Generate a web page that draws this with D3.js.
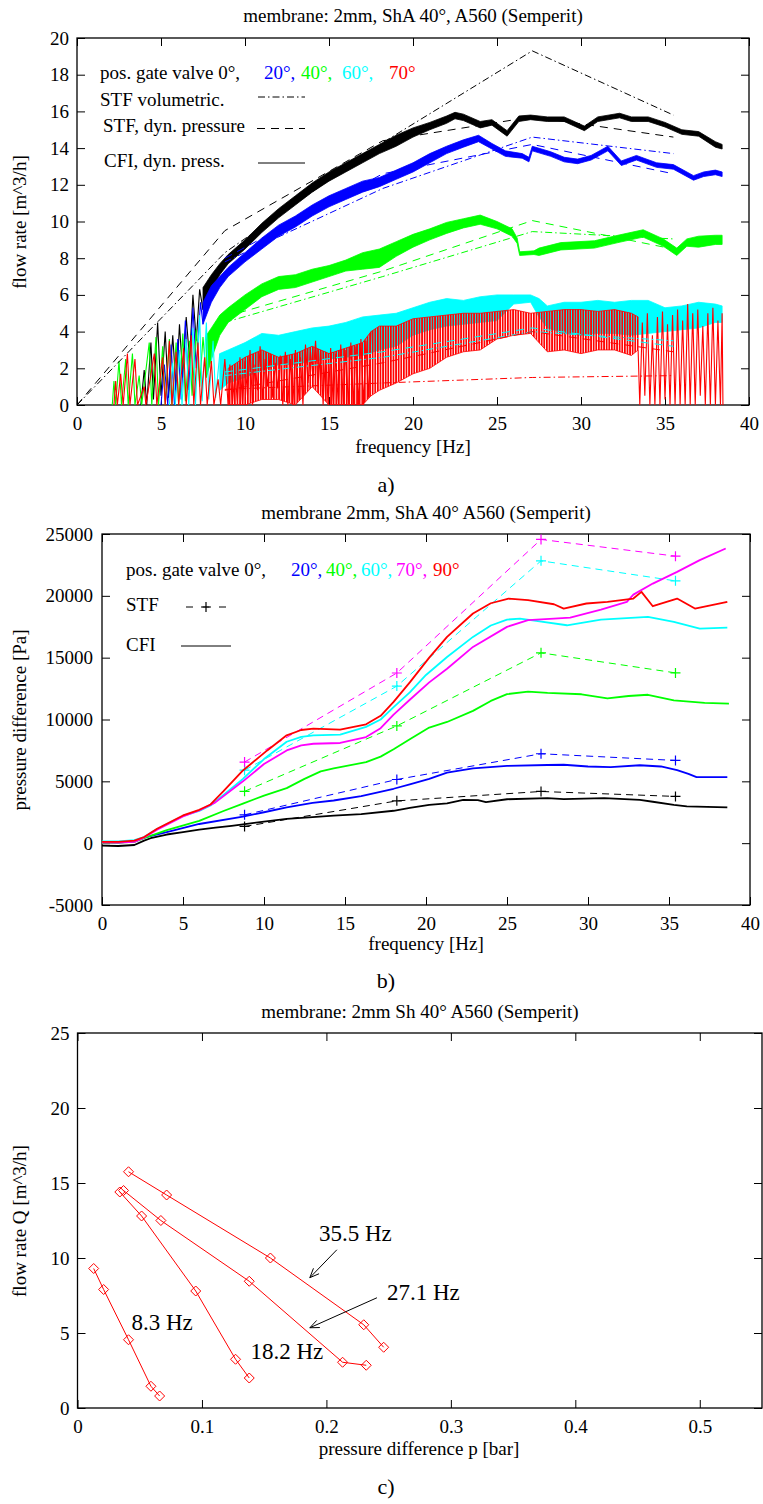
<!DOCTYPE html>
<html lang="en">
<head>
<meta charset="utf-8">
<title>membrane 2mm ShA 40 A560</title>
<script src="https://cdnjs.cloudflare.com/ajax/libs/d3/7.8.5/d3.min.js"></script>
<style>
body { margin:0; background:#fff; }
svg { display:block; font-family:"Liberation Serif","Times New Roman",serif; }
.domain { display:none; }
.tick line { stroke:#000; }
</style>
</head>
<body>
<svg id="chart" width="763" height="1504"></svg>
<script>
// ---------- panel a) : flow rate vs frequency ----------
// STF lines (frequency, flow rate)
var stfDynBlack = [[0,0],[8.8,9.5],[18.2,14.4],[27.1,15.7],[35.5,14.6]];
var stfVolBlack = [[0,0],[8.8,8.3],[18.2,14.3],[27.1,19.3],[35.5,15.8]];
var stfDynBlue  = [[8.8,8.0],[18.2,12.6],[27.1,14.2],[35.5,12.6]];
var stfVolBlue  = [[8.8,7.8],[18.2,11.8],[27.1,14.6],[35.5,13.7]];
var stfDynGreen = [[8.8,4.8],[18.2,7.3],[27.1,10.05],[35.5,8.5]];
var stfVolGreen = [[8.8,4.5],[18.2,7.0],[27.1,9.45],[35.5,9.05]];
var stfDynCyan  = [[8.8,1.8],[18.2,2.9],[27.1,4.2],[35.5,3.2]];
var stfVolCyan  = [[8.8,1.6],[18.2,2.6],[27.1,4.0],[35.5,3.5]];
var stfDynRed   = [[8.8,0.8],[18.2,2.3],[27.1,4.0],[35.5,2.9]];
var stfVolRed   = [[8.8,0.85],[18.2,1.2],[27.1,1.5],[35.5,1.6]];

// CFI measurement, noisy band: [frequency, low, high]
var cfiBlack = [[7.5,5.2,6.4],[8,6.3,7.1],[8.5,7.1,7.7],[9,7.7,8.2],[10,8.5,9.0],[11,9.4,9.9],[12,10.2,10.7],[13,10.9,11.4],[14,11.6,12.1],[15,12.2,12.7],[16,12.7,13.2],[17,13.2,13.7],[18,13.7,14.2],[19,14.1,14.7],[20,14.6,15.1],[21,15.0,15.4],[22,15.35,15.75],[22.5,15.6,15.95],[23,15.5,15.85],[24,15.1,15.45],[24.7,15.25,15.55],[25.6,14.65,14.95],[26.3,15.45,15.75],[27,15.55,15.8],[28,15.45,15.7],[29,15.45,15.7],[30.2,14.95,15.2],[31,15.45,15.7],[32.3,15.65,15.9],[33,15.45,15.7],[34,15.45,15.7],[35,15.15,15.4],[36,14.75,15.0],[37,14.65,14.9],[38,14.05,14.35],[38.4,13.95,14.2]];
var cfiBlue = [[7.5,4.4,5.6],[8,5.6,6.5],[8.5,6.4,7.0],[9,7.0,7.5],[10,7.8,8.3],[11,8.5,9.1],[12,9.2,9.8],[13,9.7,10.3],[14,10.3,10.9],[15,10.8,11.4],[16,11.2,11.8],[17,11.6,12.2],[18,11.9,12.4],[19,12.3,12.8],[20,12.7,13.2],[21,13.2,13.7],[22,13.7,14.1],[23,14.05,14.45],[23.9,14.35,14.7],[24.7,13.95,14.25],[25.5,13.55,13.85],[26.5,13.45,13.7],[26.9,13.25,13.5],[27.1,13.85,14.1],[28.2,13.55,13.8],[29,13.25,13.5],[29.8,13.15,13.4],[30.6,13.35,13.6],[31.6,13.85,14.1],[32.4,13.05,13.3],[33.3,13.35,13.6],[34.5,12.95,13.2],[35.5,12.85,13.1],[36.7,12.25,12.5],[37.3,12.45,12.7],[38,12.55,12.8],[38.4,12.45,12.7]];
var cfiGreen = [[7.7,1.5,3.8],[8,2.5,4.2],[8.5,3.8,4.9],[9,4.5,5.3],[10,5.2,6.0],[11,5.9,6.6],[12,6.3,7.0],[13,6.4,7.1],[14,6.7,7.4],[15,7.0,7.6],[16,7.3,7.9],[17,7.4,8.3],[18,7.5,8.5],[19,8.1,8.9],[20,8.6,9.3],[21,9.0,9.6],[22,9.35,9.95],[23,9.65,10.15],[24,9.85,10.35],[25,9.6,10.0],[25.9,9.2,9.6],[26.2,8.8,9.1],[26.35,8.15,8.35],[27.2,8.2,8.4],[27.5,8.15,8.55],[28.8,8.45,8.85],[30.8,8.55,8.95],[32.2,8.85,9.25],[33.7,9.15,9.55],[34.9,8.65,9.05],[35.7,8.15,8.55],[36.3,8.65,9.05],[37,8.6,9.2],[38,8.75,9.25],[38.4,8.75,9.25]];
var cfiCyan = [[8.5,0.8,2.8],[9,1.2,3.0],[10,1.5,3.4],[11,1.9,3.9],[12,2.2,3.8],[13,2.2,4.0],[14,2.4,4.2],[15,2.5,4.3],[16,2.6,4.5],[17,2.7,4.8],[18,3.0,4.9],[19,3.2,5.0],[20,3.8,5.3],[21,4.1,5.6],[22,4.3,5.8],[23,4.4,5.7],[24,4.5,5.9],[25,4.6,6.0],[26,5.5,6.0],[27,5.6,6.0],[27.5,4.8,5.8],[28,4.2,5.4],[29,3.9,5.6],[30,3.8,5.6],[31,3.9,5.7],[32,3.9,5.6],[33,3.8,5.7],[34,3.9,5.7],[35,4.0,5.3],[36,4.1,5.4],[37,4.2,5.6],[38,4.5,5.5],[38.4,4.5,5.4]];
var cfiRed = [[9,0,2.0],[10,0,2.6],[11,0.3,3.0],[12,0.3,2.6],[13,0,2.8],[14,1.0,3.2],[15,0,2.8],[16,0,3.1],[17,0,3.4],[17.5,0.5,4.0],[18,0.8,4.3],[19,1.2,4.3],[20,1.7,4.7],[21,2.0,4.8],[22,2.6,4.9],[23,2.9,5.0],[24,3.0,5.0],[25,3.6,5.1],[26,3.8,5.2],[27,3.9,5.0],[28,2.9,5.1],[29,3.0,5.2],[30,2.8,5.2],[31,3.0,5.1],[32,3.0,5.2],[33,2.7,5.0],[33.4,3.0,4.8]];

// CFI oscillating parts (frequency, flow rate)
var spikeBlack = [[3.8,0],[4.0,1.9],[4.15,0],[4.4,3.4],[4.55,0.3],[4.8,4.5],[5.0,0.5],[5.25,4.0],[5.45,0.4],[5.7,3.8],[5.9,0.8],[6.1,4.4],[6.3,1.5],[6.5,4.8],[6.7,2.5],[6.9,6.0],[7.1,3.5],[7.3,6.3],[7.5,5.2]];
var spikeBlue = [[5.0,0],[5.2,2.2],[5.4,0],[5.6,3.3],[5.8,0],[6.0,3.6],[6.2,0.3],[6.45,4.6],[6.65,0.8],[6.9,5.3],[7.1,2.0],[7.35,5.6],[7.5,4.4]];
var spikeGreen = [[2.1,0],[2.2,1.3],[2.3,0],[2.5,2.4],[2.65,0],[2.9,2.5],[3.05,0],[3.3,2.8],[3.45,0],[3.7,1.6],[3.85,0],[4.3,3.4],[4.45,0],[4.7,3.7],[4.85,0],[5.1,3.2],[5.25,0],[5.5,3.6],[5.65,0],[5.9,3.4],[6.05,0],[6.3,3.9],[6.45,0.2],[6.7,3.5],[6.85,0.5],[7.1,4.1],[7.3,1.0],[7.5,3.7],[7.7,1.5]];
var spikeCyan = [[5.5,0],[5.7,2.3],[5.85,0],[6.1,3.0],[6.25,0],[6.5,3.6],[6.65,0],[6.9,4.2],[7.05,0],[7.3,4.9],[7.45,0.2],[7.7,4.5],[7.85,0.3],[8.1,3.5],[8.25,0.4],[8.5,2.8]];
var spikeRed = [[2.2,0],[2.3,1.3],[2.4,0],[2.6,1.7],[2.75,0],[3.0,2.8],[3.15,0],[3.45,2.5],[3.6,0],[4.0,1.0],[4.1,0],[4.6,2.8],[4.75,0],[5.1,2.6],[5.25,0],[5.5,3.5],[5.65,0],[5.9,2.9],[6.05,0],[6.35,3.1],[6.5,0],[6.8,3.8],[6.95,0],[7.2,3.4],[7.35,0],[7.6,2.6],[7.75,0],[8.0,2.4],[8.15,0],[8.4,1.4],[8.55,0],[8.8,2.5],[9.0,0],
  [9.1,2.2],[9.25,0],[9.4,1.8],[9.55,0.2],[9.7,2.6],[9.85,0],[10.0,2.4],[10.15,0.5],[10.3,3.0],[10.45,0],[10.6,2.2],[10.75,0.8],[10.9,3.2],[11.05,0.3],[11.2,2.5],[11.35,1.0],[11.5,2.8],[11.65,0.4],[11.8,2.3],[11.95,0.9],[12.1,2.7],[12.25,0],[12.4,2.9],[12.55,0],[12.7,2.5],[12.85,0],[13.0,3.0],[13.15,0.2],[13.3,2.6],[13.45,0],[13.6,3.3],[13.75,1.2],[13.9,2.9],[14.05,1.5],[14.2,3.5],[14.35,1.0],[14.5,3.0],[14.65,0],[14.8,2.9],[14.95,0],[15.1,3.1],[15.25,0],[15.4,2.8],[15.55,0],[15.7,3.3],[15.85,0],[16.0,3.0],[16.15,0],[16.3,3.4],[16.45,0],[16.6,3.2],[16.75,0],[16.9,3.6],[17.05,0],[17.2,3.5],[17.35,0.4],[17.5,4.0]];
var spikeRedHigh = [[33.4,3.0],[33.5,0],[33.65,4.5],[33.8,0.5],[33.95,5.0],[34.1,0],[34.25,3.8],[34.4,0],[34.55,4.8],[34.7,0],[34.85,5.1],[35.0,0.3],[35.15,4.4],[35.3,0],[35.45,4.9],[35.6,0],[35.75,5.2],[35.9,0],[36.05,4.6],[36.2,0],[36.35,5.5],[36.5,0],[36.65,5.0],[36.8,0],[36.95,5.2],[37.1,0.5],[37.25,4.3],[37.4,0],[37.55,5.0],[37.7,0],[37.85,5.3],[38.0,0],[38.15,4.6],[38.3,0],[38.4,5.0],[38.45,0]];

var ticksA_x = [0,5,10,15,20,25,30,35,40];
var ticksA_y = [0,2,4,6,8,10,12,14,16,18,20];

// ---------- panel b) : pressure difference vs frequency ----------
var cfiB_black = [[0,-200],[1,-230],[2,-150],[2.6,200],[3,400],[4,700],[5,900],[6,1100],[7,1250],[8,1400],[8.7,1520],[10,1750],[11.4,1970],[13,2100],[14.3,2220],[16,2350],[18,2620],[19,2850],[20.2,3100],[21.3,3220],[22.3,3500],[23.2,3480],[23.7,3320],[25,3550],[27.5,3640],[28.5,3560],[31,3640],[33.2,3500],[34,3350],[35.3,3100],[36.1,2970],[38.6,2900]];
var cfiB_blue = [[0,100],[1,50],[2,150],[2.6,450],[4,900],[6,1550],[8.7,2150],[10,2500],[11.4,2900],[13,3250],[14.3,3450],[16,3800],[18,4400],[19,4750],[20.2,5200],[21.3,5700],[22.9,6050],[25,6250],[27.5,6320],[28.5,6340],[30,6200],[31.4,6150],[33.2,6300],[34.5,6200],[35.5,5900],[36.2,5600],[36.7,5340],[38.6,5340]];
var cfiB_green = [[0,0],[1,50],[2,100],[2.6,400],[4,1050],[6,1800],[7.5,2600],[8.7,3200],[10,3850],[11.4,4450],[12.5,5200],[13.5,5800],[14.3,6050],[16.3,6550],[17.2,7000],[18,7600],[19,8400],[20.2,9350],[21.3,9800],[22.9,10700],[24,11500],[25,12050],[26.3,12250],[27.5,12150],[29.6,12040],[31.2,11700],[32.5,11900],[33.7,12000],[35.3,11550],[37.2,11340],[38.7,11290]];
var cfiB_cyan = [[0,150],[1,150],[2,250],[2.6,500],[3.4,1150],[5,2200],[6,2600],[6.7,3050],[7.5,3900],[8.7,5200],[10,6800],[11.4,8200],[12.3,8600],[13.05,8720],[14.7,8780],[16.3,9400],[17.2,10000],[18,11000],[19,12200],[20,13600],[21.3,15050],[22.9,16680],[24,17600],[25,18080],[25.8,18160],[26.8,17970],[28.7,17620],[30.8,18080],[33.7,18300],[35.3,17890],[36.9,17350],[38.6,17430]];
var cfiB_magenta = [[0,50],[1,50],[2,100],[2.6,450],[3.4,1080],[5,2160],[6,2640],[7,3300],[8.7,5000],[10,6400],[11.4,7500],[12.3,7900],[13.05,8040],[14.7,8100],[16.3,8580],[17.2,9300],[18,10400],[19,11600],[20.2,13000],[21.3,14100],[22.9,15870],[25,17490],[26.3,18030],[27.9,18160],[28.9,18240],[30.8,18890],[32.4,19510],[32.8,20100],[34,20990],[35.5,21940],[36.9,22890],[38.5,23830]];
var cfiB_red = [[0,100],[1,100],[2,200],[2.6,500],[3.4,1160],[5,2240],[6,2700],[6.7,3130],[7.5,4200],[8.7,5880],[10.2,7500],[11.4,8720],[12.3,9150],[13.05,9260],[14.7,9180],[16.3,9610],[17.2,10300],[18,11420],[19,13000],[20.2,15000],[21.3,16680],[22.9,18570],[24,19400],[25.1,19780],[26.3,19650],[27.9,19320],[28.5,18970],[29.9,19380],[31.2,19510],[32.8,19780],[33.3,20320],[34,19160],[35.5,19780],[36.6,18970],[38.6,19510]];

var stfB_black   = [[8.8,1350],[18.2,3420],[27.1,4180],[35.4,3780]];
var stfB_blue    = [[8.8,2290],[18.2,5150],[27.1,7230],[35.4,6690]];
var stfB_green   = [[8.8,4190],[18.2,9480],[27.1,15390],[35.4,13770]];
var stfB_cyan    = [[8.8,5900],[18.2,12700],[27.1,22830],[35.4,21210]];
var stfB_magenta = [[8.8,6560],[18.2,13760],[27.1,24560],[35.4,23210]];

var ticksB_x = [0,5,10,15,20,25,30,35,40];
var ticksB_y = [-5000,0,5000,10000,15000,20000,25000];

// ---------- panel c) : flow rate vs pressure difference ----------
var q8_3  = [[0.013,9.3],[0.021,7.9],[0.041,4.55],[0.059,1.45],[0.066,0.8]];
var q18_2 = [[0.034,14.4],[0.0515,12.8],[0.095,7.8],[0.127,3.25],[0.138,2.0]];
var q27_1 = [[0.037,14.5],[0.067,12.5],[0.138,8.45],[0.213,3.05],[0.232,2.85]];
var q35_5 = [[0.041,15.75],[0.0716,14.2],[0.155,10.0],[0.23,5.55],[0.246,4.05]];

var ticksC_x = [0,0.1,0.2,0.3,0.4,0.5];
var ticksC_y = [0,5,10,15,20,25];

var FONT = "'Liberation Serif','Times New Roman',serif";
var svg = d3.select("#chart");

// dense vertical hatching, stands in for the very noisy red record
svg.append("defs").append("pattern")
  .attr("id", "redNoise").attr("patternUnits", "userSpaceOnUse")
  .attr("width", 2.6).attr("height", 6)
  .append("rect").attr("width", 1.7).attr("height", 6).attr("fill", "#ff0000");

function frame(g, x, y, xt, yt, padX, padY, id) {
  var xr = x.range(), yr = y.range();
  g.append("g").attr("transform", "translate(0," + yr[0] + ")")
    .call(d3.axisBottom(x).tickValues(xt).tickSize(-8).tickPadding(padX).tickFormat(function(d){ return String(d); }));
  g.append("g").attr("transform", "translate(0," + yr[1] + ")")
    .call(d3.axisTop(x).tickValues(xt).tickSize(-8).tickFormat(""));
  g.append("g").attr("transform", "translate(" + xr[0] + ",0)")
    .call(d3.axisLeft(y).tickValues(yt).tickSize(-8).tickPadding(padY).tickFormat(function(d){ return String(d); }));
  g.append("g").attr("transform", "translate(" + xr[1] + ",0)")
    .call(d3.axisRight(y).tickValues(yt).tickSize(-8).tickFormat(""));
  g.selectAll(".tick text").attr("font-family", FONT).attr("font-size", 19).attr("fill", "#000");
  g.append("rect")
    .attr("x", xr[0]).attr("y", yr[1])
    .attr("width", xr[1] - xr[0]).attr("height", yr[0] - yr[1])
    .attr("fill", "none").attr("stroke", "#000").attr("stroke-width", 1.3);
  g.append("clipPath").attr("id", id).append("rect")
    .attr("x", xr[0]).attr("y", yr[1])
    .attr("width", xr[1] - xr[0]).attr("height", yr[0] - yr[1]);
}

function label(t, x, y, size, color, anchor) {
  return svg.append("text").attr("x", x).attr("y", y)
    .attr("font-size", size).attr("fill", color || "#000")
    .attr("text-anchor", anchor || "start").text(t);
}

function yLabel(t, x, cy) {
  svg.append("text").attr("transform", "translate(" + x + "," + cy + ") rotate(-90)")
    .attr("text-anchor", "middle").attr("font-size", 19).text(t);
}

// ================= panel a =================
var xA = d3.scaleLinear().domain([0, 40]).range([77, 749]);
var yA = d3.scaleLinear().domain([0, 20]).range([405, 38]);
var gA = svg.append("g");
frame(gA, xA, yA, ticksA_x, ticksA_y, 11.5, 8, "clipA");

var lineA = d3.line().x(function(d){ return xA(d[0]); }).y(function(d){ return yA(d[1]); });
var bandA = d3.area().x(function(d){ return xA(d[0]); })
  .y0(function(d){ return yA(d[1]); }).y1(function(d){ return yA(d[2]); });

var plotA = gA.append("g").attr("clip-path", "url(#clipA)");

[[spikeBlack, cfiBlack, "#000"], [spikeBlue, cfiBlue, "#0000ff"], [spikeGreen, cfiGreen, "#00ff00"],
 [spikeCyan, cfiCyan, "#00ffff"]].forEach(function(s) {
  plotA.append("path").attr("d", lineA(s[0])).attr("fill", "none").attr("stroke", s[2]).attr("stroke-width", 1.1);
  plotA.append("path").attr("d", bandA(s[1])).attr("fill", s[2]).attr("stroke", s[2]).attr("stroke-width", 0.8);
});
plotA.append("path").attr("d", bandA(cfiRed)).attr("fill", "url(#redNoise)").attr("stroke", "#ff0000").attr("stroke-width", 0.8);
plotA.append("path").attr("d", lineA(spikeRed)).attr("fill", "none").attr("stroke", "#ff0000").attr("stroke-width", 1.1);
plotA.append("path").attr("d", lineA(spikeRedHigh)).attr("fill", "none").attr("stroke", "#ff0000").attr("stroke-width", 1.1);

var DASH = "8,6", DASHDOT = "7,3,1.5,3";
[[stfVolBlack,"#000"],[stfVolBlue,"#0000ff"],[stfVolGreen,"#00ff00"],[stfVolCyan,"#00ffff"],[stfVolRed,"#ff0000"]].forEach(function(s){
  plotA.append("path").attr("d", lineA(s[0])).attr("fill", "none").attr("stroke", s[1])
    .attr("stroke-width", 1).attr("stroke-dasharray", DASHDOT);
});
[[stfDynBlack,"#000"],[stfDynBlue,"#0000ff"],[stfDynGreen,"#00ff00"],[stfDynCyan,"#00ffff"],[stfDynRed,"#ff0000"]].forEach(function(s){
  plotA.append("path").attr("d", lineA(s[0])).attr("fill", "none").attr("stroke", s[1])
    .attr("stroke-width", 1).attr("stroke-dasharray", DASH);
});

// legend a
label("pos. gate valve 0°,", 100, 79, 19);
label("20°,", 264, 79, 19, "#0000ff");
label("40°,", 301, 79, 19, "#00ff00");
label("60°,", 342, 79, 19, "#00ffff");
label("70°", 389, 79, 19, "#ff0000");
label("STF volumetric.", 100, 106, 19);
label("STF, dyn. pressure", 103, 132, 19);
label("CFI, dyn. press.", 104, 167, 19);
svg.append("line").attr("x1", 258).attr("x2", 305).attr("y1", 97).attr("y2", 97)
  .attr("stroke", "#000").attr("stroke-dasharray", DASHDOT);
svg.append("line").attr("x1", 257).attr("x2", 305).attr("y1", 128.5).attr("y2", 128.5)
  .attr("stroke", "#000").attr("stroke-dasharray", DASH);
svg.append("line").attr("x1", 258).attr("x2", 305).attr("y1", 163).attr("y2", 163)
  .attr("stroke", "#000");

label("membrane: 2mm, ShA 40°, A560 (Semperit)", 413, 22, 19, "#000", "middle");
label("frequency [Hz]", 413, 453, 19, "#000", "middle");
yLabel("flow rate [m^3/h]", 26, 222);
label("a)", 386, 492, 22, "#000", "middle");

// ================= panel b =================
var xB = d3.scaleLinear().domain([0, 40]).range([102, 750]);
var yB = d3.scaleLinear().domain([-5000, 25000]).range([905, 534]);
var gB = svg.append("g");
frame(gB, xB, yB, ticksB_x, ticksB_y, 11.5, 9, "clipB");

var lineB = d3.line().x(function(d){ return xB(d[0]); }).y(function(d){ return yB(d[1]); });
var plotB = gB.append("g").attr("clip-path", "url(#clipB)");

var colB = { black:"#000", blue:"#0000ff", green:"#00ff00", cyan:"#00ffff", magenta:"#ff00ff", red:"#ff0000" };
[[stfB_black,colB.black],[stfB_blue,colB.blue],[stfB_green,colB.green],[stfB_cyan,colB.cyan],[stfB_magenta,colB.magenta]].forEach(function(s){
  plotB.append("path").attr("d", lineB(s[0])).attr("fill", "none").attr("stroke", s[1])
    .attr("stroke-width", 1).attr("stroke-dasharray", "7,5");
  plotB.selectAll(null).data(s[0]).enter().append("path")
    .attr("d", function(d){ var px = xB(d[0]), py = yB(d[1]);
      return "M" + (px - 5) + "," + py + "H" + (px + 5) + "M" + px + "," + (py - 5) + "V" + (py + 5); })
    .attr("stroke", s[1]).attr("stroke-width", 1.2);
});
[[cfiB_black,colB.black],[cfiB_blue,colB.blue],[cfiB_green,colB.green],[cfiB_cyan,colB.cyan],[cfiB_magenta,colB.magenta],[cfiB_red,colB.red]].forEach(function(s){
  plotB.append("path").attr("d", lineB(s[0])).attr("fill", "none").attr("stroke", s[1])
    .attr("stroke-width", 1.8).attr("stroke-linejoin", "round");
});

// legend b
label("pos. gate valve 0°,", 126, 576, 19);
label("20°,", 291, 576, 19, colB.blue);
label("40°,", 326, 576, 19, colB.green);
label("60°,", 361, 576, 19, colB.cyan);
label("70°,", 396, 576, 19, colB.magenta);
label("90°", 433, 576, 19, colB.red);
label("STF", 126, 611, 19);
label("CFI", 126, 651, 19);
svg.append("line").attr("x1", 186).attr("x2", 226).attr("y1", 607).attr("y2", 607)
  .attr("stroke", "#000").attr("stroke-dasharray", "7,9.5");
svg.append("path").attr("d", "M201,607H211M206,602V612").attr("stroke", "#000").attr("stroke-width", 1.2);
svg.append("line").attr("x1", 181).attr("x2", 231).attr("y1", 646).attr("y2", 646).attr("stroke", "#000");

label("membrane 2mm, ShA 40° A560 (Semperit)", 426, 519, 19, "#000", "middle");
label("frequency [Hz]", 426, 950, 19, "#000", "middle");
yLabel("pressure difference [Pa]", 26, 720);
label("b)", 386, 988, 22, "#000", "middle");

// ================= panel c =================
var xC = d3.scaleLinear().domain([0, 0.55]).range([77.5, 762]);
var yC = d3.scaleLinear().domain([0, 25]).range([1408, 1033]);
var gC = svg.append("g");
frame(gC, xC, yC, ticksC_x, ticksC_y, 11.5, 8, "clipC");

var lineC = d3.line().x(function(d){ return xC(d[0]); }).y(function(d){ return yC(d[1]); });
var plotC = gC.append("g").attr("clip-path", "url(#clipC)");
[q8_3, q18_2, q27_1, q35_5].forEach(function(s){
  plotC.append("path").attr("d", lineC(s)).attr("fill", "none").attr("stroke", "#ff0000").attr("stroke-width", 1);
  plotC.selectAll(null).data(s).enter().append("path")
    .attr("d", function(d){ var px = xC(d[0]), py = yC(d[1]);
      return "M" + (px - 5) + "," + py + "L" + px + "," + (py - 5) + "L" + (px + 5) + "," + py + "L" + px + "," + (py + 5) + "Z"; })
    .attr("fill", "none").attr("stroke", "#ff0000").attr("stroke-width", 1);
});

// annotations (data coordinates)
var notes = [["35.5 Hz", 0.194, 11.15], ["27.1 Hz", 0.2486, 7.22], ["8.3 Hz", 0.0433, 5.22], ["18.2 Hz", 0.139, 3.29]];
notes.forEach(function(n){ label(n[0], xC(n[1]), yC(n[2]), 23); });
var arrows = [[[0.2084, 10.55], [0.1867, 8.69]], [[0.2406, 7.35], [0.1867, 5.35]]];
arrows.forEach(function(a){
  var x1 = xC(a[0][0]), y1 = yC(a[0][1]), x2 = xC(a[1][0]), y2 = yC(a[1][1]);
  var ang = Math.atan2(y2 - y1, x2 - x1), L = 10, s = 0.4;
  svg.append("path")
    .attr("d", "M" + x1 + "," + y1 + "L" + x2 + "," + y2 +
      "M" + (x2 - L * Math.cos(ang - s)) + "," + (y2 - L * Math.sin(ang - s)) + "L" + x2 + "," + y2 +
      "L" + (x2 - L * Math.cos(ang + s)) + "," + (y2 - L * Math.sin(ang + s)))
    .attr("fill", "none").attr("stroke", "#000").attr("stroke-width", 1);
});

label("membrane: 2mm Sh 40° A560 (Semperit)", 420, 1018, 19, "#000", "middle");
label("pressure difference p [bar]", 419, 1455, 19, "#000", "middle");
yLabel("flow rate Q [m^3/h]", 26, 1221);
label("c)", 386, 1494, 22, "#000", "middle");
</script>
</body>
</html>
